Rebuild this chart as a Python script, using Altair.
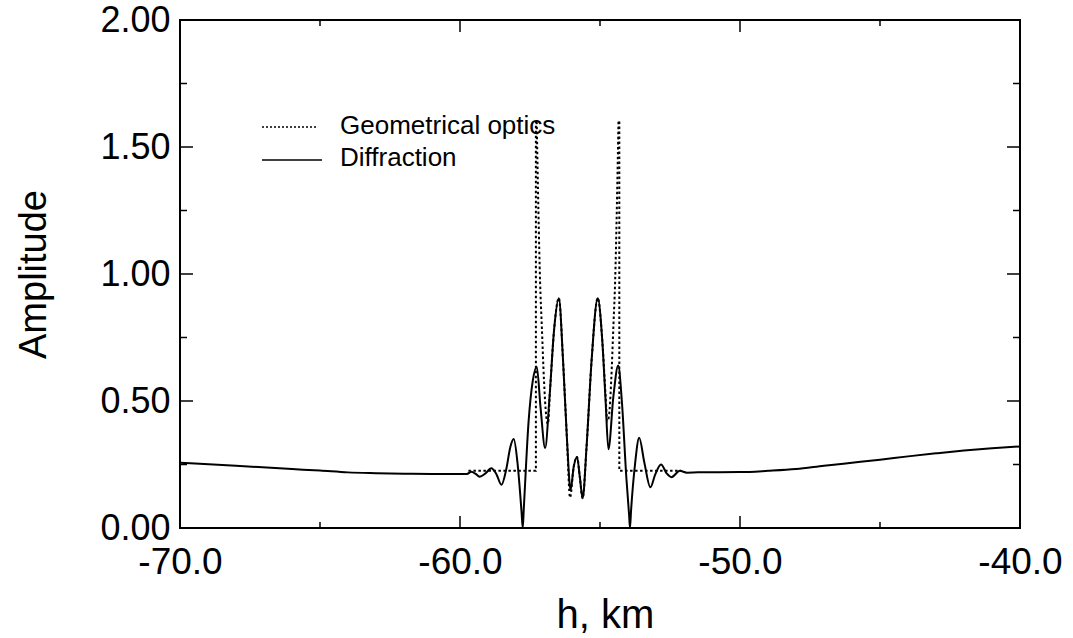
import altair as alt
import pandas as pd

# ---------------- data ----------------
diff_h = [-70.0, -68.0, -66.0, -65.0, -64.0, -63.0, -62.0, -61.0, -60.0, -59.75,
          -59.6, -59.45, -59.3, -59.1, -58.88, -58.7, -58.52, -58.35, -58.2, -58.08,
          -57.95, -57.80, -57.76, -57.72, -57.55, -57.40, -57.26, -57.12, -56.96, -56.80,
          -56.64, -56.47, -56.32, -56.18, -56.05, -55.94, -55.82, -55.72, -55.62, -55.48,
          -55.30, -55.08, -54.92, -54.80, -54.70, -54.52, -54.35, -54.22, -54.06, -53.96,
          -53.93, -53.89, -53.75, -53.60, -53.42, -53.20, -53.03, -52.82, -52.62, -52.45,
          -52.15, -51.9, -51.5, -50.0, -49.0, -48.0, -47.0, -46.0, -45.0, -44.0,
          -43.0, -42.0, -41.0, -40.0]
diff_a = [0.257, 0.245, 0.232, 0.226, 0.219, 0.216, 0.214, 0.213, 0.213, 0.213,
          0.221, 0.214, 0.202, 0.214, 0.235, 0.212, 0.170, 0.23, 0.32, 0.350,
          0.26, 0.06, 0.0, 0.08, 0.42, 0.58, 0.635, 0.47, 0.315, 0.52,
          0.78, 0.905, 0.66, 0.35, 0.150, 0.24, 0.280, 0.20, 0.117, 0.32,
          0.66, 0.905, 0.74, 0.50, 0.310, 0.52, 0.640, 0.50, 0.20, 0.05,
          0.0, 0.07, 0.25, 0.355, 0.26, 0.160, 0.21, 0.250, 0.215, 0.200,
          0.225, 0.218, 0.219, 0.220, 0.225, 0.232, 0.245, 0.257, 0.269, 0.282,
          0.294, 0.305, 0.314, 0.321]

# Geometrical optics: outer steps and the interference branch between the caustics
geo_left_h = [-59.7, -57.29, -57.29]
geo_left_a = [0.225, 0.225, 1.60]
geo_mid_h = [-57.26, -57.20, -57.14, -57.08, -57.00, -56.92, -56.86, -56.78, -56.64, -56.47,
             -56.32, -56.18, -56.07, -55.94, -55.82, -55.72, -55.62, -55.48, -55.30, -55.08,
             -54.92, -54.80, -54.74, -54.68, -54.60, -54.52, -54.46, -54.40, -54.34]
geo_mid_a = [1.60, 1.25, 0.97, 0.80, 0.58, 0.44, 0.41, 0.55, 0.78, 0.905,
             0.66, 0.35, 0.120, 0.24, 0.280, 0.20, 0.117, 0.32, 0.66, 0.905,
             0.74, 0.52, 0.42, 0.44, 0.58, 0.80, 0.97, 1.25, 1.60]
geo_right_h = [-54.31, -54.31, -52.1]
geo_right_a = [1.60, 0.225, 0.225]

x_label_values = [-70, -60, -50, -40]
y_label_values = [0.0, 0.5, 1.0, 1.5, 2.0]
x_major = [-60, -50]
x_minor = [-65, -55, -45]
y_major = [0.5, 1.0, 1.5]
y_minor = [0.25, 0.75, 1.25, 1.75]
legend_labels = ["Geometrical optics", "Diffraction"]

# ---------------- chart ----------------
W, H = 840, 508
FONT = "Liberation Sans"

xs = alt.Scale(domain=[-70, -40], nice=False, zero=False)
ys = alt.Scale(domain=[0, 2], nice=False, zero=False)

x_axis = alt.Axis(values=x_label_values,
                  labelExpr="datum.value < 0 ? '-' + format(-datum.value, '.1f') : format(datum.value, '.1f')",
                  labelFontSize=37, labelPadding=16,
                  labelFlush=False, labelOverlap=False, ticks=False, domain=False, grid=False,
                  title="h, km", titleFontSize=40, titleFontWeight="normal",
                  titleX=425, titleY=99, titleBaseline="alphabetic", titleAlign="center",
                  labelColor="black", titleColor="black", labelFont=FONT, titleFont=FONT)
y_axis = alt.Axis(values=y_label_values, format=".2f", labelFontSize=36, labelPadding=10,
                  labelFlush=False, labelOverlap=False, ticks=False, domain=False, grid=False,
                  title="Amplitude", titleFontSize=38, titleFontWeight="normal",
                  titleAngle=270, titleX=-146, titleY=254, titleBaseline="middle",
                  titleAlign="center", labelColor="black", titleColor="black",
                  labelFont=FONT, titleFont=FONT)

def X(field):
    return alt.X(field, type="quantitative", scale=xs, axis=x_axis)

def Y(field):
    return alt.Y(field, type="quantitative", scale=ys, axis=y_axis)

diff_df = pd.DataFrame({"h": diff_h, "a": diff_a})
geo_l = pd.DataFrame({"h": geo_left_h, "a": geo_left_a, "i": range(len(geo_left_h))})
geo_m = pd.DataFrame({"h": geo_mid_h, "a": geo_mid_a})
geo_r = pd.DataFrame({"h": geo_right_h, "a": geo_right_a, "i": range(len(geo_right_h))})

DASH = [2.5, 2.5]
geo_left_line = alt.Chart(geo_l).mark_line(color="black", strokeWidth=2, strokeDash=DASH).encode(
    x=X("h"), y=Y("a"), order="i:Q")
geo_mid_line = alt.Chart(geo_m).mark_line(color="black", strokeWidth=2, strokeDash=DASH,
                                          interpolate="monotone").encode(x=X("h"), y=Y("a"))
geo_right_line = alt.Chart(geo_r).mark_line(color="black", strokeWidth=2, strokeDash=DASH).encode(
    x=X("h"), y=Y("a"), order="i:Q")

diff_line = alt.Chart(diff_df).mark_line(color="black", strokeWidth=2,
                                         interpolate="monotone").encode(x=X("h"), y=Y("a"))

# inward ticks on all four sides
def xticks(vals, y0, y1):
    return alt.Chart(pd.DataFrame({"v": vals})).mark_rule(color="black", strokeWidth=1.5).encode(
        x=X("v"), y=alt.value(y0), y2=alt.value(y1))

def yticks(vals, x0, x1):
    return alt.Chart(pd.DataFrame({"v": vals})).mark_rule(color="black", strokeWidth=1.5).encode(
        y=Y("v"), x=alt.value(x0), x2=alt.value(x1))

tick_layers = [
    xticks(x_major, H, H - 12), xticks(x_minor, H, H - 6),
    xticks(x_major, 0, 12), xticks(x_minor, 0, 6),
    yticks(y_major, 0, 13), yticks(y_minor, 0, 7),
    yticks(y_major, W, W - 13), yticks(y_minor, W, W - 7),
]

# legend drawn inside the plot
leg_geo_line = alt.Chart(pd.DataFrame({"k": [0]})).mark_rule(
    color="black", strokeWidth=1.5, strokeDash=[2, 2]).encode(
    x=alt.value(82), x2=alt.value(138), y=alt.value(107))
leg_diff_line = alt.Chart(pd.DataFrame({"k": [0]})).mark_rule(
    color="black", strokeWidth=1.5).encode(
    x=alt.value(82), x2=alt.value(142), y=alt.value(140))
leg_geo_text = alt.Chart(pd.DataFrame({"label": [legend_labels[0]]})).mark_text(
    align="left", baseline="middle", fontSize=26, font=FONT, color="black").encode(
    x=alt.value(160), y=alt.value(106), text="label:N")
leg_diff_text = alt.Chart(pd.DataFrame({"label": [legend_labels[1]]})).mark_text(
    align="left", baseline="middle", fontSize=26, font=FONT, color="black").encode(
    x=alt.value(160), y=alt.value(138), text="label:N")

chart = alt.layer(
    geo_left_line, geo_mid_line, geo_right_line, diff_line, *tick_layers,
    leg_geo_line, leg_diff_line, leg_geo_text, leg_diff_text,
).properties(
    width=W, height=H,
    autosize=alt.AutoSizeParams(type="none"),
    padding={"left": 180, "top": 20, "right": 53, "bottom": 110},
    background="white",
).configure_view(
    stroke="black", strokeWidth=2
).configure_axis(
    labelFont=FONT, titleFont=FONT
)

chart.save("out.html", embed_options={"renderer": "svg", "actions": False})
